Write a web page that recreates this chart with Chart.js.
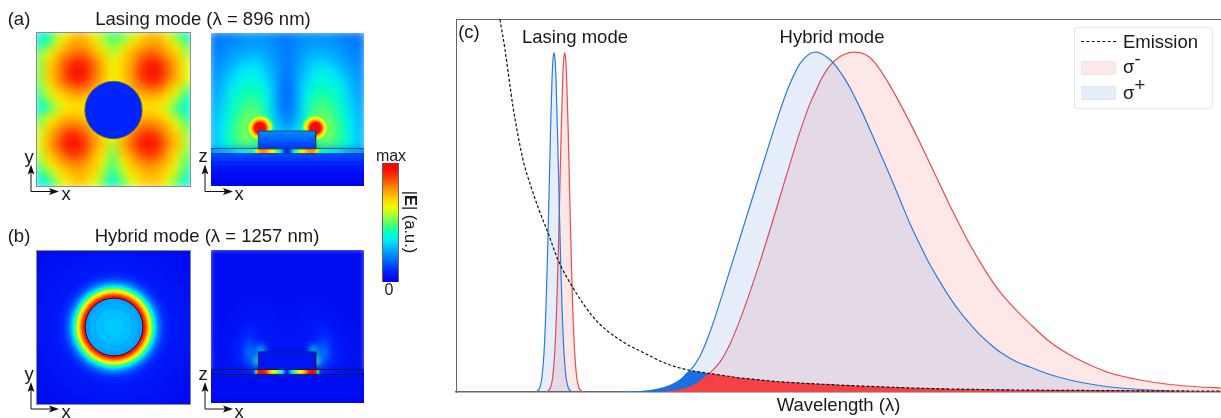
<!DOCTYPE html>
<html>
<head>
<meta charset="utf-8">
<title>Lasing and hybrid modes</title>
<script src="https://cdn.jsdelivr.net/npm/chart.js@4/dist/chart.umd.min.js"></script>
<style>
  html, body { margin: 0; padding: 0; background: #fff; width: 1221px; height: 418px; overflow: hidden; }
  body { position: relative; font-family: "Liberation Sans", Arial, sans-serif; color: #1a1a1a; }
  canvas { position: absolute; }
  .panel { position: absolute; overflow: hidden; }
  .framed { box-shadow: 0 0 0 1px #8c8c8c; }
  .label { position: absolute; font-size: 18.5px; line-height: 1; white-space: nowrap; transform: translate(-50%, -50%); }
  .small { font-size: 16px; }
  .vertical { writing-mode: vertical-rl; font-size: 16.5px; }
  #legend { position: absolute; left: 1074px; top: 27px; width: 137px; height: 80px; background: #fff; border: 1px solid #e6e6e6; border-radius: 3px; }
  #legend span { position: absolute; left: 48px; font-size: 18.5px; line-height: 1; white-space: nowrap; }
  #legend sup { font-size: 18.5px; line-height: 0; position: relative; vertical-align: baseline; top: -8px; }
  #legend i { position: absolute; left: 6px; width: 35px; display: block; }
  svg { position: absolute; left: 0; top: 0; }
</style>
</head>
<body>
<canvas id="spectrum" width="1221" height="418"></canvas>
<div id="panels"></div>

<svg width="1221" height="418" id="arrows"></svg>

<div class="label" style="left:19px;top:19px">(a)</div>
<div class="label" style="left:203px;top:19px">Lasing mode (λ = 896 nm)</div>
<div class="label" style="left:19px;top:236px">(b)</div>
<div class="label" style="left:207px;top:236px">Hybrid mode (λ = 1257 nm)</div>
<div class="label" style="left:469px;top:32px">(c)</div>
<div class="label" style="left:575px;top:37px">Lasing mode</div>
<div class="label" style="left:832px;top:37px">Hybrid mode</div>
<div class="label small" style="left:391px;top:156px">max</div>
<div class="label small" style="left:389px;top:290px">0</div>
<div class="label vertical" style="left:411px;top:222px">|<b>E</b>| (a.u.)</div>
<div class="label" style="left:29px;top:157px">y</div>
<div class="label" style="left:66px;top:194px">x</div>
<div class="label" style="left:203px;top:156px">z</div>
<div class="label" style="left:239px;top:194px">x</div>
<div class="label" style="left:29px;top:374px">y</div>
<div class="label" style="left:66px;top:412px">x</div>
<div class="label" style="left:203px;top:374px">z</div>
<div class="label" style="left:239px;top:412px">x</div>

<div id="legend">
  <i style="top:13px;border-top:1px dashed #111"></i><span style="top:5px">Emission</span>
  <i style="top:33px;height:12px;background:#fde9e9;border:1px solid #fbe3e3;width:33px"></i><span style="top:30px">σ<sup>-</sup></span>
  <i style="top:58px;height:12px;background:#e6eef9;border:1px solid #dee8f6;width:33px"></i><span style="top:56px">σ<sup>+</sup></span>
</div>

<script>
// panel (c): x is position along the wavelength axis, y is intensity in a.u.
const hybridX = [164,174,184,194,204,214,224,234,244,254,264,274,284,294,304,314,324,334,344,354,360,364,374,384,394,397,404,414,424,434,444,454,464,474,484,494,504,514,524,534,544,559,574,594,614,634,654,684,714,744,765];
const hybridPlus = [0,0.1,0.5,1.5,3.3,6.5,12,21,36,60,90,122,154,186,218,250,281,308,328,338,339.5,338.5,332,320,304,298,284,262,239,216,192,168,147,127,110,94,80,68,57,48,40,31,25,17.5,12,8,5,2.5,1,0.3,0];
const hybridMinus = [0,0,0,0.1,0.3,1,2.4,5.5,11,19,30,48,72,100,130,162,195,228,260,288,301,310,326,335,339,339.5,339,334,322,306,288,269,249,228,207,186,166,147,130,114,100,83,68,50,37,27,19,12,7.5,5,4];
const emissionTail = [52,46,41,36,31,27,24,21.5,20,18.5,17,15.5,14,13,12,11,10.2,9.5,9,8.4,8.1,7.9,7.4,6.9,6.4,6.3,6,5.6,5.2,4.8,4.4,4.1,3.8,3.5,3.2,3,2.8,2.6,2.5,2.3,2.2,2,1.9,1.7,1.6,1.5,1.4,1.2,1.1,1,1];
const emissionHeadX = [44,49,57,67,75,83,92,102,117,137,149,161];
const emissionHead = [372,342,285,232,205,182,159,132,104,75,63,54];

const lasingPlusX = [79,81,84,86,88,90,91.5,93,94.5,96,97,98,99,100,101.5,103,104.5,106,108,110,112,115,117];
const lasingMinusX = [89.7,91.7,94.7,96.7,98.7,100.7,102.2,103.7,105.2,106.7,107.7,108.7,109.7,110.7,112.2,113.7,115.2,116.7,118.7,120.7,122.7,125.7,127.7];
const lasingHeight = [0,0.7,5,15,39,85,136,197,260,312,332,339,332,312,260,197,136,85,39,15,5,0.7,0];

// field maps, percent of the colour bar, rows top to bottom; outer row and column sit just outside the frame
const fieldLasingXY = [
  [36,42,55,65,73,73,63,53,47,49,57,67,73,73,61,48,38],
  [40,46,63,72,76,75,70,60,50,57,67,72,76,75,70,61,48],
  [50,63,72,78,82,82,74,69,57,67,75,80,84,82,74,69,55],
  [52,68,75,86,93,90,82,72,62,69,75,86,93,90,82,72,60],
  [52,70,78,89,95,94,84,73,64,70,78,89,95,94,84,73,62],
  [50,68,76,86,92,90,80,72,63,68,76,86,92,90,80,72,60],
  [48,63,71,76,81,80,74,67,62,67,73,78,81,80,72,63,48],
  [42,54,65,69,71,70,68,66,62,66,68,70,71,70,65,54,42],
  [36,44,57,66,67,67,66,63,60,63,66,67,67,66,57,44,36],
  [48,62,69,73,74,71,68,66,62,66,69,73,74,72,66,56,44],
  [55,69,76,82,84,79,72,64,62,69,75,82,84,79,73,65,50],
  [60,72,82,91,93,87,76,69,62,72,80,90,93,88,78,70,55],
  [60,73,84,93,95,89,78,70,54,73,83,92,95,90,79,70,55],
  [56,70,76,86,88,84,73,66,50,69,76,86,88,85,74,66,50],
  [50,63,71,76,80,76,71,60,46,63,72,76,80,76,71,60,46],
  [40,52,63,70,74,73,68,56,42,56,66,72,74,73,66,56,42],
  [34,40,54,65,71,70,62,50,36,48,60,67,71,70,60,48,36]
];
const fieldLasingXZ = [
  [20,20,21,23,24,24,23,22,20,22,23,24,24,23,21,20,20],
  [20,21,22,24,25,25,24,22,20,22,24,25,25,24,22,21,20],
  [21,22,25,27,28,28,26,23,20,23,26,28,28,27,25,22,21],
  [22,24,27,30,32,32,28,24,20,24,28,32,32,30,27,24,22],
  [23,26,30,34,36,35,30,25,19,25,30,35,36,34,30,26,23],
  [24,28,33,37,39,38,32,25,18,25,32,38,39,37,33,28,24],
  [25,29,36,40,43,41,34,25,17,25,34,41,43,40,36,29,25],
  [26,31,38,43,46,44,36,25,17,25,36,44,46,43,38,31,26],
  [27,32,40,45,49,47,38,25,18,25,38,47,49,45,40,32,27],
  [28,33,42,48,52,50,40,28,20,28,40,50,52,48,42,33,28],
  [28,34,43,50,56,52,42,31,25,31,42,52,56,50,43,34,28],
  [29,35,44,50,54,44,38,34,32,34,38,44,54,50,44,35,29],
  [29,35,42,46,48,44,42,42,42,42,42,44,48,46,42,35,29],
  [14,14,14,14,14,14,14,14,14,14,14,14,14,14,14,14,14],
  [6,6,6,6,6,6,6,6,6,6,6,6,6,6,6,6,6],
  [2,2,2,2,2,2,2,2,2,2,2,2,2,2,2,2,2],
  [1,1,1,1,1,1,1,1,1,1,1,1,1,1,1,1,1]
];
const fieldHybridXY = [
  [3,3,3,4,4,4,5,5,5,5,5,4,4,4,3,3,3],
  [3,3,4,4,5,5,5,6,6,6,5,5,5,4,4,3,3],
  [3,4,4,5,5,6,6,6,7,6,6,6,5,5,4,4,3],
  [4,4,5,5,6,6,7,7,7,7,7,6,6,5,5,4,4],
  [4,5,5,6,6,7,7,7,7,7,7,7,6,6,5,5,4],
  [4,5,5,6,7,7,7,7,7,7,7,7,7,6,5,5,4],
  [5,5,6,6,7,7,7,7,7,7,7,7,7,6,6,5,5],
  [5,5,6,7,7,7,7,7,7,7,7,7,7,7,6,5,5],
  [5,6,6,7,7,7,7,7,7,7,7,7,7,7,6,6,5],
  [5,5,6,7,7,7,7,7,7,7,7,7,7,7,6,5,5],
  [5,5,6,6,7,7,7,7,7,7,7,7,7,6,6,5,5],
  [4,5,5,6,7,7,7,7,7,7,7,7,7,6,5,5,4],
  [4,5,5,6,6,7,7,7,7,7,7,7,6,6,5,5,4],
  [4,4,5,5,6,6,7,7,7,7,7,6,6,5,5,4,4],
  [3,4,4,5,5,6,6,6,7,6,6,6,5,5,4,4,3],
  [3,3,4,4,5,5,5,6,6,6,5,5,5,4,4,3,3],
  [3,3,3,4,4,4,5,5,5,5,5,4,4,4,3,3,3]
];
const fieldHybridXZ = [
  [3,3,3,3,3,3,3,3,3,3,3,3,3,3,3,3,3],
  [3,3,3,3,3,3,3,3,3,3,3,3,3,3,3,3,3],
  [3,3,3,3,3,3,3,3,3,3,3,3,3,3,3,3,3],
  [3,3,3,3,3,3,3,3,3,3,3,3,3,3,3,3,3],
  [3,3,3,3,3,3,3,3,3,3,3,3,3,3,3,3,3],
  [3,3,3,3,4,4,4,3,3,3,4,4,4,3,3,3,3],
  [3,3,3,4,4,4,4,4,4,4,4,4,4,4,3,3,3],
  [3,3,4,4,5,5,5,4,4,4,5,5,5,4,4,3,3],
  [3,3,4,5,7,6,5,5,4,5,5,6,7,5,4,3,3],
  [3,4,4,6,10,7,5,5,5,5,5,7,10,6,4,4,3],
  [3,4,5,8,15,7,5,5,5,5,5,7,15,8,5,4,3],
  [4,4,6,9,20,6,5,5,5,5,5,6,20,9,6,4,4],
  [4,4,5,8,14,6,5,5,5,5,5,6,14,8,5,4,4],
  [3,3,4,4,5,5,5,4,4,4,5,5,5,4,4,3,3],
  [3,3,3,3,3,3,3,3,3,3,3,3,3,3,3,3,3],
  [2,2,2,3,3,3,3,3,3,3,3,3,3,3,2,2,2],
  [2,2,2,2,2,2,2,2,2,2,2,2,2,2,2,2,2]
];

// disc and ring profile of the hybrid mode, radius in panel units against percent
const ringRadius = [60,56,53,50,47.5,45.5,44,42.5,41.5,40.5,39.5,38.5,37.5,36.5,35.5,34.5,33.5,32.5,31,29.5];
const ringLevel = [6,8,10,13,17,21,26,31,36,41,46,52,58,63,68,74,80,87,93,96];
const discRadius = [28.7,24,18,10];
const discLevel = [26,28,30,31];
const spotRadius = [13.5,12.5,11.5,10.5,9.5,8.5,7.5,6.5,5.5];
const spotLevel = [46,52,58,63,68,75,82,90,97];

// slab and thin layer in the xz maps
const stripX = [0,15,30,40,43,45,47,49,51,53,55,57,59,61,63,65,67,69,71,73,75,77,79,81,83,85,87,89,91,93,95,97,99,101,103,105,107,109,112,122,137,153];
const stripLasing = [24,28,33,38,42,55,70,76,78,78,76,72,68,63,58,52,45,36,26,16,10,10,16,26,36,45,52,58,63,68,72,76,78,78,76,70,55,42,38,33,28,24];
const stripHybrid = [5,5,6,9,14,45,90,97,96,93,88,80,72,66,62,58,52,45,36,25,10,10,25,36,45,52,58,62,66,72,80,88,93,96,97,90,45,14,9,6,5,5];
const slabLasing = [22,20,18,16,14,12];
const slabHybrid = [5,5,5,5,5,5];
const substrateLasing = [14,12,9,6,4,3,2,1];
const substrateHybrid = [4,3,3,3,3,3,2,2];
const barLevels = [0,4,8,12,16,20,24,28,32,36,40,44,48,52,56,60,64,68,72,76,80,84,88,92,96,100];

const colorStops = [
  [0,0,0,235],[10,0,40,255],[20,0,120,255],[30,0,190,255],[34,0,235,255],[42,0,255,190],
  [48,70,255,120],[56,170,255,50],[62,235,255,10],[66,255,235,0],[78,255,150,0],[90,255,40,0],[96,245,10,0],[100,225,20,10]
];

Chart.defaults.animation = false;
Chart.defaults.responsive = false;
Chart.defaults.events = [];
Chart.defaults.font.family = '"Liberation Sans", Arial, sans-serif';

function levelColor(v) {
  for (let i = 1; i < colorStops.length; i++) {
    const a = colorStops[i - 1], b = colorStops[i];
    if (v <= b[0]) {
      const t = (v - a[0]) / (b[0] - a[0]);
      return 'rgb(' + [1, 2, 3].map(k => Math.round(a[k] + (b[k] - a[k]) * t)).join(',') + ')';
    }
  }
  return 'rgb(225,20,10)';
}

const points = (xs, ys) => xs.map((x, i) => ({ x, y: ys[i] }));

// spectrum chart
const curve = (label, xs, ys, color, fill, order) => ({
  label, data: points(xs, ys), order,
  borderColor: color, backgroundColor: fill, borderWidth: color === 'transparent' ? 0 : 1.2,
  fill: fill ? 'origin' : false, pointRadius: 0, cubicInterpolationMode: 'monotone'
});
const overlapPlus = hybridPlus.map((v, i) => Math.min(v, emissionTail[i]));
const overlapMinus = hybridMinus.map((v, i) => Math.min(v, emissionTail[i]));
const blueLine = '#2d7ae0', redLine = '#ef4b4f';
const blueFill = 'rgba(30,100,220,0.11)', redFill = 'rgba(239,60,60,0.12)';

new Chart(document.getElementById('spectrum'), {
  type: 'line',
  data: { datasets: [
    curve('Lasing σ-', lasingMinusX, lasingHeight, redLine, redFill, 7),
    curve('Lasing σ+', lasingPlusX, lasingHeight, blueLine, blueFill, 6),
    curve('σ-', hybridX, hybridMinus, redLine, redFill, 5),
    curve('σ+', hybridX, hybridPlus, blueLine, blueFill, 4),
    curve('Overlap σ+', hybridX, overlapPlus, 'transparent', '#1b6fe0', 3),
    curve('Overlap σ-', hybridX, overlapMinus, 'transparent', '#f54044', 2),
    Object.assign(curve('Emission', emissionHeadX.concat(hybridX), emissionHead.concat(emissionTail), '#111', null, 1), { borderDash: [3, 2] })
  ] },
  options: {
    layout: { padding: { left: 456, top: 19, right: 0, bottom: 0 } },
    plugins: { legend: { display: false }, tooltip: { enabled: false } },
    scales: {
      x: {
        type: 'linear', min: 0, max: 765, border: { color: '#666', width: 1.5 },
        ticks: { display: false }, grid: { display: false, drawTicks: false },
        title: { display: true, text: 'Wavelength (λ)', color: '#1a1a1a', font: { size: 18.5 }, padding: { top: 0, bottom: 1 } },
        afterFit: s => { s.height = 26; }
      },
      top: {
        type: 'linear', position: 'top', axis: 'x', min: 0, max: 765, border: { color: '#666', width: 1 },
        ticks: { display: false }, grid: { drawTicks: false, drawOnChartArea: false },
        afterFit: s => { s.height = 0; }
      },
      y: {
        min: 0, max: 372.5, border: { color: '#666', width: 1 },
        ticks: { display: false }, grid: { display: false, drawTicks: false },
        afterFit: s => { s.width = 0; }
      }
    }
  }
});

// field map panels
const panelsEl = document.getElementById('panels');

function addCanvas(parent, left, top, width, height) {
  const c = document.createElement('canvas');
  c.width = width; c.height = height;
  c.style.left = left + 'px'; c.style.top = top + 'px';
  parent.appendChild(c);
  return c;
}

const mapOptions = (xMin, xMax, yMin, yMax) => ({
  layout: { padding: 0 },
  plugins: { legend: { display: false }, tooltip: { enabled: false } },
  scales: {
    x: { type: 'linear', display: false, min: xMin, max: xMax },
    y: { type: 'linear', display: false, min: yMin, max: yMax, reverse: true }
  }
});

const inOrder = list => list.map((d, i) => Object.assign(d, { order: list.length - i }));

// concentric filled circles, radius read through the x scale
const radiusOf = r => c => c.chart.scales.x.getPixelForValue(r) - c.chart.scales.x.getPixelForValue(0);
const circles = (x, y, radii, levels) => radii.map((r, i) => ({
  type: 'scatter', data: [{ x, y }], pointStyle: 'circle', pointBorderWidth: 0,
  pointBackgroundColor: levelColor(levels[i]), pointRadius: radiusOf(r)
}));
const circleEdge = (x, y, r, color) => ({
  type: 'scatter', data: [{ x, y }], pointStyle: 'circle', pointBorderWidth: 1,
  pointBackgroundColor: 'transparent', pointBorderColor: color, pointRadius: radiusOf(r)
});

const segment = (x1, x2, y, color, width) => ({
  type: 'scatter', showLine: true, data: [{ x: x1, y }, { x: x2, y }],
  borderColor: color, borderWidth: width, pointRadius: 0
});

const band = (x1, x2, y1, y2, levels) => {
  const h = (y2 - y1) / levels.length;
  return levels.map((v, i) => segment(x1, x2, y1 + (i + 0.5) * h, levelColor(v), h + 0.6));
};

const outline = (x1, x2, y1, y2, color) => ({
  type: 'scatter', showLine: true,
  data: [{ x: x1, y: y1 }, { x: x2, y: y1 }, { x: x2, y: y2 }, { x: x1, y: y2 }, { x: x1, y: y1 }],
  borderColor: color, borderWidth: 1, pointRadius: 0
});

// colour ramp along an axis, stops placed by the scale
const ramp = (axis, at, levels) => c => {
  const s = c.chart.scales[axis];
  const p0 = s.getPixelForValue(at[0]), p1 = s.getPixelForValue(at[at.length - 1]);
  if (!Number.isFinite(p0) || !Number.isFinite(p1)) return '#00f';
  const g = axis === 'x' ? c.chart.ctx.createLinearGradient(p0, 0, p1, 0) : c.chart.ctx.createLinearGradient(0, p0, 0, p1);
  at.forEach((v, i) => g.addColorStop((v - at[0]) / (at[at.length - 1] - at[0]), levelColor(levels[i])));
  return g;
};

const strip = (xs, levels, y, width) => ({
  type: 'scatter', showLine: true, data: [{ x: xs[0], y }, { x: xs[xs.length - 1], y }],
  borderWidth: width, pointRadius: 0, borderColor: ramp('x', xs, levels)
});

function addPanel(cfg) {
  const wrap = document.createElement('div');
  wrap.className = 'panel' + (cfg.framed ? ' framed' : '');
  wrap.style.cssText += `left:${cfg.left}px;top:${cfg.top}px;width:${cfg.size}px;height:${cfg.size}px`;
  panelsEl.appendChild(wrap);

  const rows = cfg.field.length, cols = cfg.field[0].length;
  const cell = cfg.size / (cols - 2);
  const cells = [], fills = [];
  cfg.field.forEach((row, r) => row.forEach((v, c) => {
    cells.push({ x: (c - 0.5) * cell, y: (r - 0.5) * cell });
    fills.push(levelColor(v));
  }));
  const heat = addCanvas(wrap, -cell, -cell, Math.round(cell * cols), Math.round(cell * rows));
  heat.style.filter = `blur(${cfg.blur}px)`;
  new Chart(heat, {
    type: 'scatter',
    data: { datasets: inOrder([
      { data: cells, pointStyle: 'rect', pointRadius: cell * 0.75, pointBorderWidth: 0, pointBackgroundColor: fills }
    ].concat(cfg.glow || [])) },
    options: mapOptions(-cell, cfg.size + cell, -cell, cfg.size + cell)
  });

  const sharp = addCanvas(wrap, 0, 0, cfg.size, cfg.size);
  new Chart(sharp, {
    type: 'scatter',
    data: { datasets: inOrder(cfg.marks) },
    options: mapOptions(0, cfg.size, 0, cfg.size)
  });
}

addPanel({
  left: 37, top: 33, size: 153, framed: true, blur: 5, field: fieldLasingXY,
  marks: [].concat(circles(76.5, 77, [28.5], [9]), [circleEdge(76.5, 77, 28.7, 'rgba(60,90,60,0.8)')])
});

addPanel({
  left: 211, top: 33, size: 153, blur: 5, field: fieldLasingXZ,
  marks: [].concat(
    circles(49, 95, spotRadius, spotLevel),
    circles(104.5, 95, spotRadius, spotLevel),
    band(47.3, 104.7, 98, 116, slabLasing),
    band(0, 153, 120.5, 153, substrateLasing),
    [strip(stripX, stripLasing, 118, 5)],
    [outline(47.3, 104.7, 98, 116, 'rgba(20,60,70,0.75)')],
    [segment(0, 153, 115.5, 'rgba(40,60,70,0.8)', 1), segment(0, 153, 120.5, 'rgba(40,60,90,0.8)', 1)]
  )
});

addPanel({
  left: 37, top: 251, size: 153, framed: true, blur: 1, field: fieldHybridXY,
  marks: [].concat(
    circles(77, 76, ringRadius, ringLevel),
    circles(77, 76, discRadius, discLevel),
    [circleEdge(77, 76, 28.9, 'rgba(30,10,20,0.9)')]
  )
});

addPanel({
  left: 211, top: 250, size: 153, blur: 3, field: fieldHybridXZ,
  glow: [].concat(
    circles(47, 102, [7, 4.5, 3], [12, 24, 42]),
    circles(105, 102, [7, 4.5, 3], [12, 24, 42]),
    circles(45, 114, [9, 6, 4], [14, 30, 48]),
    circles(107, 114, [9, 6, 4], [14, 30, 48])
  ),
  marks: [].concat(
    band(47.3, 104.7, 102, 119.5, slabHybrid),
    band(0, 153, 124.3, 153, substrateHybrid),
    [strip(stripX, stripHybrid, 122, 5)],
    [outline(47.3, 104.7, 102, 119.5, 'rgba(10,30,70,0.85)')],
    [segment(0, 153, 119.5, 'rgba(10,20,60,0.9)', 1), segment(0, 153, 124.3, 'rgba(10,20,60,0.9)', 1)]
  )
});

// colour bar
const barWrap = document.createElement('div');
barWrap.className = 'panel';
barWrap.style.cssText += 'left:382px;top:163px;width:17px;height:119px';
panelsEl.appendChild(barWrap);
new Chart(addCanvas(barWrap, 0, 0, 17, 119), {
  type: 'scatter',
  data: { datasets: [{
    showLine: true, data: [{ x: 50, y: barLevels[0] }, { x: 50, y: barLevels[barLevels.length - 1] }],
    borderWidth: 17, pointRadius: 0, borderColor: ramp('y', barLevels, barLevels)
  }] },
  options: {
    layout: { padding: 0 },
    plugins: { legend: { display: false }, tooltip: { enabled: false } },
    scales: {
      x: { type: 'linear', display: false, min: 0, max: 100 },
      y: { type: 'linear', display: false, min: 0, max: 100 }
    }
  }
});
const barEdge = document.createElement('div');
barEdge.style.cssText = 'position:absolute;left:0;top:0;width:17px;height:119px;box-sizing:border-box;border-left:1px solid #666;border-right:1px solid #666';
barWrap.appendChild(barEdge);

// coordinate arrows
const arrowBases = [[31, 191.5], [205, 191.5], [31, 409], [205, 409]];
document.getElementById('arrows').innerHTML = arrowBases.map(([x, y]) =>
  `<path d="M${x} ${y - 20}V${y}H${x + 21}" fill="none" stroke="#111" stroke-width="1"/>` +
  `<path d="M${x} ${y - 27}l-3.4 10 3.4 -2 3.4 2z" fill="#111"/>` +
  `<path d="M${x + 28} ${y}l-10 -3.4 2 3.4 -2 3.4z" fill="#111"/>`
).join('');
</script>
</body>
</html>
